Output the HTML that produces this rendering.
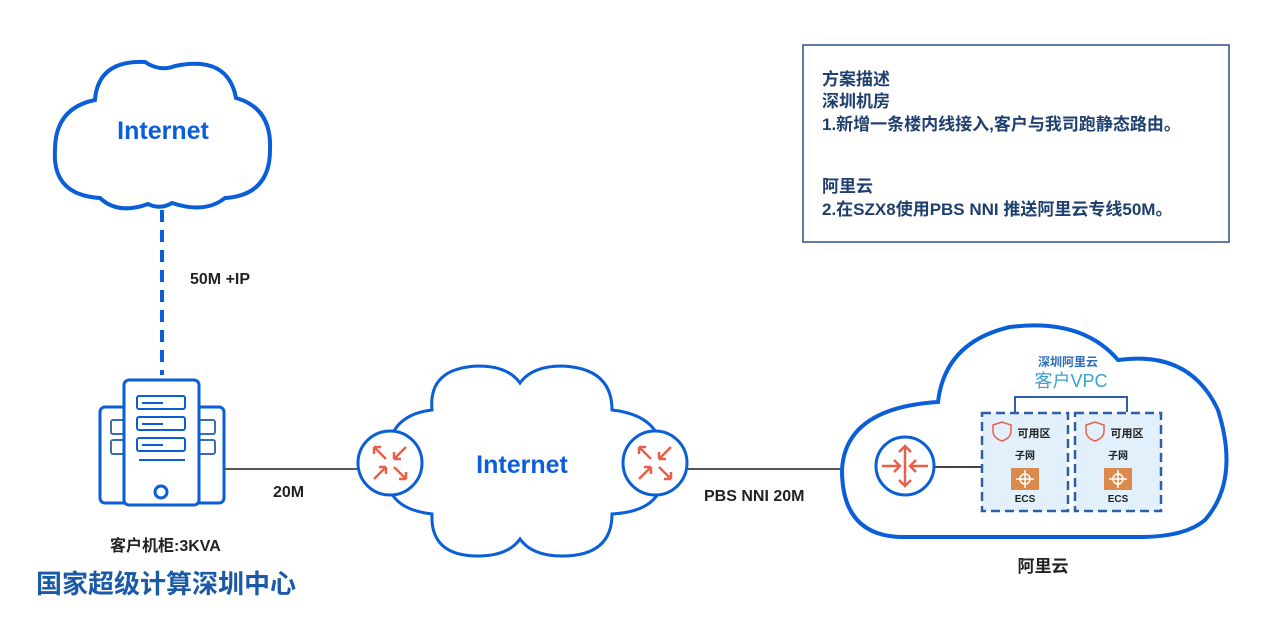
<!DOCTYPE html>
<html><head><meta charset="utf-8"><style>
body{margin:0;width:1275px;height:624px;background:#fff;overflow:hidden;font-family:"Liberation Sans","Noto Sans CJK SC",sans-serif}
</style></head><body>
<svg width="1275" height="624" viewBox="0 0 1275 624" xmlns="http://www.w3.org/2000/svg" font-family="Liberation Sans, Noto Sans CJK SC, sans-serif">
<!-- top cloud -->
<path d="M100,198 Q52,195 55,150 Q55,108 95,100 Q98,60 145,62 Q160,72 175,66 Q228,55 236,98 Q272,108 270,150 Q270,195 225,198 Q205,214 172,203 Q160,210 148,204 Q118,215 100,198 Z" fill="#fff" stroke="#0a5ed7" stroke-width="4"/>
<text x="163" y="139" font-size="25" font-weight="bold" fill="#0a5ed7" text-anchor="middle">Internet</text>
<line x1="162" y1="210" x2="162" y2="375" stroke="#0a5ed7" stroke-width="4" stroke-dasharray="12,8"/>
<text x="190" y="284" font-size="16" font-weight="bold" fill="#222">50M +IP</text>
<!-- server -->
<rect x="100" y="407" width="124" height="96" rx="5" fill="#fff" stroke="#0a5ed7" stroke-width="3"/>
<rect x="111" y="420" width="104" height="14" rx="2" fill="none" stroke="#3a6db5" stroke-width="2"/>
<rect x="111" y="440" width="104" height="14" rx="2" fill="none" stroke="#3a6db5" stroke-width="2"/>
<rect x="124" y="380" width="75" height="125" rx="5" fill="#fff" stroke="#0a5ed7" stroke-width="3"/>
<rect x="137" y="396" width="48" height="13" rx="2" fill="none" stroke="#0a5ed7" stroke-width="2"/>
<rect x="137" y="417" width="48" height="13" rx="2" fill="none" stroke="#0a5ed7" stroke-width="2"/>
<rect x="137" y="438" width="48" height="13" rx="2" fill="none" stroke="#0a5ed7" stroke-width="2"/>
<line x1="142" y1="403" x2="163" y2="403" stroke="#0a5ed7" stroke-width="2"/>
<line x1="142" y1="424" x2="163" y2="424" stroke="#0a5ed7" stroke-width="2"/>
<line x1="142" y1="445" x2="163" y2="445" stroke="#0a5ed7" stroke-width="2"/>
<line x1="139" y1="460" x2="185" y2="460" stroke="#0a5ed7" stroke-width="2"/>
<circle cx="161" cy="492" r="6" fill="none" stroke="#0a5ed7" stroke-width="3"/>
<line x1="224" y1="469" x2="358" y2="469" stroke="#555" stroke-width="2"/>
<text x="273" y="497" font-size="16" font-weight="bold" fill="#222">20M</text>
<text x="110" y="551" font-size="16" font-weight="bold" fill="#222">客户机柜:3KVA</text>
<text x="36" y="593" font-size="26" font-weight="bold" fill="#1b5aa8">国家超级计算深圳中心</text>
<!-- middle cloud -->
<path d="M432,410 Q428,368 478,366 Q508,366 520,383 Q532,366 562,366 Q612,368 612,410 Q650,414 660,440 L660,490 Q650,512 612,514 Q612,556 562,556 Q532,556 520,539 Q508,556 478,556 Q430,556 432,514 Q398,510 390,490 L390,440 Q398,414 432,410 Z" fill="#fff" stroke="#0a5ed7" stroke-width="3"/>
<text x="522" y="473" font-size="25" font-weight="bold" fill="#0a5ed7" text-anchor="middle">Internet</text>
<g>
<circle cx="390" cy="463" r="32" fill="#fff" stroke="#0a5ed7" stroke-width="3"/>
<g stroke="#e8604a" stroke-width="2.5" fill="none">
<path d="M374,447 L386,459 M374,447 h7 M374,447 v7"/>
<path d="M406,447 L394,459 M394,459 h7 M394,459 v-7"/>
<path d="M374,479 L386,467 M386,467 h-7 M386,467 v7"/>
<path d="M406,479 L394,467 M406,479 h-7 M406,479 v-7"/>
</g></g>
<g transform="translate(265,0)">
<circle cx="390" cy="463" r="32" fill="#fff" stroke="#0a5ed7" stroke-width="3"/>
<g stroke="#e8604a" stroke-width="2.5" fill="none">
<path d="M374,447 L386,459 M374,447 h7 M374,447 v7"/>
<path d="M406,447 L394,459 M394,459 h7 M394,459 v-7"/>
<path d="M374,479 L386,467 M386,467 h-7 M386,467 v7"/>
<path d="M406,479 L394,467 M406,479 h-7 M406,479 v-7"/>
</g></g>
<line x1="688" y1="469" x2="840" y2="469" stroke="#555" stroke-width="2"/>
<text x="704" y="501" font-size="16" font-weight="bold" fill="#222">PBS NNI 20M</text>
<!-- right cloud -->
<path d="M900,537 Q842,535 842,470 Q845,408 938,402 Q945,342 1010,327 Q1082,318 1118,360 Q1190,350 1218,410 Q1240,480 1205,520 Q1185,537 1140,537 Z" fill="#fff" stroke="#0a5ed7" stroke-width="4"/>
<text x="1068" y="366" font-size="12" font-weight="bold" fill="#2f6dbb" text-anchor="middle">深圳阿里云</text>
<text x="1071" y="387" font-size="18" fill="#3aa0d0" text-anchor="middle">客户VPC</text>
<path d="M1015,412 V397 H1127 V412" fill="none" stroke="#2d5ea8" stroke-width="2"/>
<line x1="933" y1="467" x2="982" y2="467" stroke="#444" stroke-width="2"/>
<rect x="982" y="413" width="86" height="98" fill="#e1f0fa" stroke="#2d5ea8" stroke-width="2.5" stroke-dasharray="9,5"/>
<rect x="1075" y="413" width="86" height="98" fill="#e1f0fa" stroke="#2d5ea8" stroke-width="2.5" stroke-dasharray="9,5"/>
<g font-size="10" font-weight="bold" fill="#222" text-anchor="middle">
<text x="1034" y="437" font-size="11">可用区</text><text x="1127" y="437" font-size="11">可用区</text>
<text x="1025" y="459">子网</text><text x="1118" y="459">子网</text>
<text x="1025" y="502">ECS</text><text x="1118" y="502">ECS</text>
</g>
<path d="M993,425 l9,-3 l9,3 v6 q0,7 -9,10 q-9,-3 -9,-10 Z" fill="none" stroke="#e8604a" stroke-width="1.5"/>
<path d="M1086,425 l9,-3 l9,3 v6 q0,7 -9,10 q-9,-3 -9,-10 Z" fill="none" stroke="#e8604a" stroke-width="1.5"/>
<rect x="1011" y="468" width="28" height="22" fill="#dc8a4c"/>
<rect x="1104" y="468" width="28" height="22" fill="#dc8a4c"/>
<g stroke="#fff" stroke-width="1.5" fill="none"><circle cx="1025" cy="479" r="5"/><path d="M1016,479h18M1025,470v18"/><circle cx="1118" cy="479" r="5"/><path d="M1109,479h18M1118,470v18"/></g>
<circle cx="905" cy="466" r="29" fill="#fff" stroke="#0a5ed7" stroke-width="3"/>
<g stroke="#e8604a" stroke-width="2.5" fill="none">
<path d="M905,446 V486 M899,452 l6,-6 l6,6 M899,480 l6,6 l6,-6 M882,466 h18 M894,460 l6,6 l-6,6 M928,466 h-18 M916,460 l-6,6 l6,6"/>
</g>
<text x="1043" y="572" font-size="17" font-weight="bold" fill="#222" text-anchor="middle">阿里云</text>
<!-- description box -->
<rect x="803" y="45" width="426" height="197" fill="#fff" stroke="#2d4f8a" stroke-width="1.5"/>
<g font-size="17" font-weight="bold" fill="#1f3f6e">
<text x="822" y="85">方案描述</text>
<text x="822" y="107">深圳机房</text>
<text x="822" y="130">1.新增一条楼内线接入,客户与我司跑静态路由。</text>
<text x="822" y="192">阿里云</text>
<text x="822" y="215">2.在SZX8使用PBS NNI 推送阿里云专线50M。</text>
</g>
</svg>
</body></html>
